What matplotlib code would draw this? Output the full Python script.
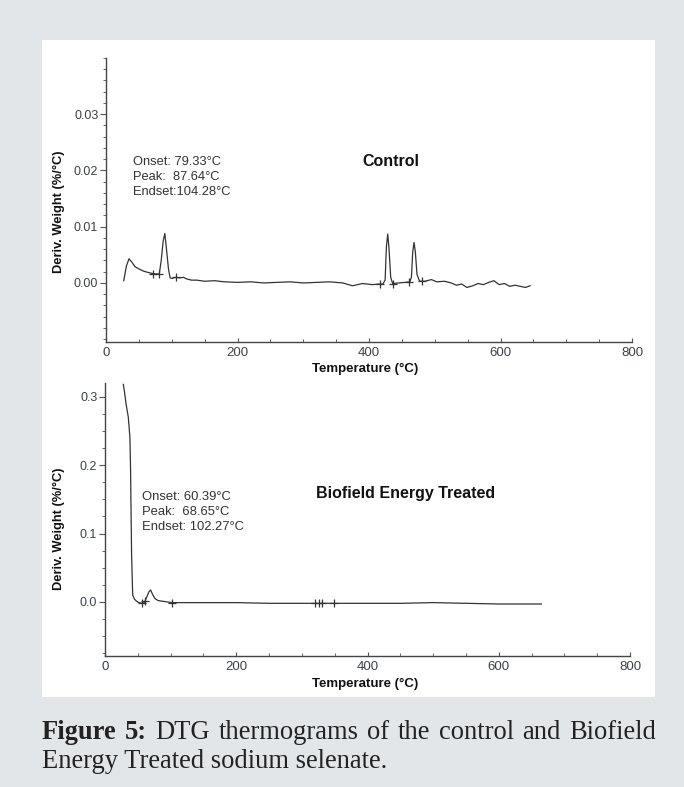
import numpy as np
import matplotlib
matplotlib.use("Agg")
import matplotlib.pyplot as plt
from matplotlib.patches import Rectangle
from matplotlib.ticker import MultipleLocator, FormatStrFormatter, FixedLocator

# ---------------- data ----------------
control_T = [27, 31, 35, 40, 44, 50, 57, 63, 70, 76, 81, 84, 87, 89.5, 92, 95, 97.5, 100,
             106, 112, 118, 123, 130, 138, 150, 165, 180, 200, 220, 240, 260, 280, 300, 320,
             340, 360, 375, 390, 405, 415, 421, 424.5, 426.5, 428.5, 430.5, 433, 436, 445,
             455, 462, 464.5, 466.5, 468.5, 470.5, 473, 477, 485, 495, 503, 515, 525, 533,
             541, 549, 558, 566, 574, 582, 590, 598, 606, 614, 622, 630, 638, 645]
control_dw = [0.0004, 0.0030, 0.0043, 0.0036, 0.0029, 0.0025, 0.0021, 0.0019, 0.0017, 0.0016,
              0.0016, 0.0040, 0.0075, 0.0088, 0.0060, 0.0025, 0.0009, 0.0008, 0.0010, 0.0009,
              0.0010, 0.0007, 0.0005, 0.0005, 0.0003, 0.0004, 0.0002, 0.0001, 0.0002, 0.0000,
              0.0001, 0.0002, 0.0000, 0.0001, 0.0002, 0.0000, -0.0005, -0.0001, -0.0003,
              -0.0002, -0.0002, 0.0005, 0.0065, 0.0087, 0.0060, 0.0010, -0.0001, 0.0000,
              0.0001, 0.0002, 0.0010, 0.0055, 0.0072, 0.0055, 0.0015, 0.0003, 0.0003, 0.0006,
              0.0002, 0.0003, 0.0000, -0.0004, -0.0002, -0.0008, -0.0005, -0.0001, -0.0003,
              0.0001, 0.0004, -0.0003, -0.0001, -0.0006, -0.0004, -0.0006, -0.0008, -0.0005]
control_marks_T = [72, 80, 106, 417, 436, 461, 480]

treated_T = [27.9, 30, 32, 35.5, 38, 39, 40.5, 42.2, 45, 48, 52, 56, 60, 64, 67, 69.6, 72,
             76, 81, 88, 95, 102, 120, 150, 200, 250, 300, 350, 400, 450, 500, 550, 600,
             640, 665]
treated_dw = [0.318, 0.305, 0.29, 0.27, 0.24, 0.19, 0.07, 0.010, 0.004, 0.001, -0.001,
              -0.002, -0.001, 0.008, 0.015, 0.0175, 0.012, 0.005, 0.002, 0.001, 0.000,
              -0.001, -0.001, -0.001, -0.001, -0.002, -0.002, -0.002, -0.002, -0.002,
              -0.001, -0.002, -0.003, -0.003, -0.003]
treated_marks_T = [56, 61, 102, 320, 326, 331, 349]

control_text = ["Onset: 79.33°C", "Peak:  87.64°C", "Endset:104.28°C"]
treated_text = ["Onset: 60.39°C", "Peak:  68.65°C", "Endset: 102.27°C"]
x_ticks = [0, 200, 400, 600, 800]
control_yticks = [0.00, 0.01, 0.02, 0.03]
treated_yticks = [0.0, 0.1, 0.2, 0.3]

# ---------------- figure ----------------
W, H = 684, 787
fig = plt.figure(figsize=(W / 100, H / 100), dpi=100)
fig.patch.set_facecolor('#e3e6e8')
fig.add_artist(Rectangle((42 / W, 1 - 697 / H), (655 - 42) / W, (697 - 40) / H,
                         transform=fig.transFigure, fc='white', ec='none', zorder=0))

sans = ['Liberation Sans', 'DejaVu Sans']
line_c = '#333333'
tick_c = '#3c414a'

def style_axes(ax, ylim, yticks, ymin, fmt):
    ax.set_facecolor('none')
    for s in ['top', 'right']:
        ax.spines[s].set_visible(False)
    for s in ['left', 'bottom']:
        ax.spines[s].set_color('#444444')
        ax.spines[s].set_linewidth(1.0)
    ax.set_xlim(0, 800)
    ax.set_ylim(*ylim)
    ax.set_xticks(x_ticks)
    ax.xaxis.set_minor_locator(MultipleLocator(50))
    ax.yaxis.set_major_locator(FixedLocator(yticks))
    ax.yaxis.set_minor_locator(MultipleLocator(ymin))
    ax.yaxis.set_major_formatter(FormatStrFormatter(fmt))
    ax.tick_params(axis='y', which='major', direction='out', length=4, width=0.8,
                   color='#555555', labelsize=9, labelcolor=tick_c, pad=1.5)
    ax.tick_params(axis='y', which='minor', direction='out', length=2.5, width=0.7,
                   color='#666666')
    ax.tick_params(axis='x', which='major', direction='in', length=3, width=0.8,
                   color='#555555', labelsize=9.5, labelcolor=tick_c, pad=3.5)
    ax.tick_params(axis='x', which='minor', direction='in', length=2, width=0.7,
                   color='#666666')
    for lab in ax.get_xticklabels() + ax.get_yticklabels():
        lab.set_fontfamily(sans)
    ax.set_xlabel('Temperature (°C)', fontsize=9.5, fontweight='bold', family=sans,
                  color='#111111', va='center')
    ax.set_ylabel('Deriv. Weight (%/°C)', fontsize=9.3, fontweight='bold', family=sans,
                  color='#111111')

# top: control
ax1 = fig.add_axes([106 / W, 1 - 342 / H, 526 / W, 284 / H])
style_axes(ax1, (-0.0105, 0.040), control_yticks, 0.002, '%.2f')
ax1.plot(control_T, control_dw, color=line_c, lw=0.9)
ax1.plot(control_marks_T, np.interp(control_marks_T, control_T, control_dw), ls='none',
         marker='+', ms=6, mew=0.9, color=line_c)
ax1.xaxis.set_label_coords(0.492, (342 - 368.5) / 284)
ax1.yaxis.set_label_coords(-0.078, 0.458)
for i, t in enumerate(control_text):
    ax1.text(0.051, 0.635 - i * 0.053, t, transform=ax1.transAxes, fontsize=9.3,
             family=sans, color='#333333', va='center', ha='left')
ax1.text(0.542, 0.635, 'Control', transform=ax1.transAxes, fontsize=11.5,
         fontweight='bold', family=sans, color='#111111', ha='center', va='center')

# bottom: treated
ax2 = fig.add_axes([105 / W, 1 - 656 / H, 525 / W, 273 / H])
style_axes(ax2, (-0.079, 0.32), treated_yticks, 0.025, '%.1f')
ax2.plot(treated_T, treated_dw, color=line_c, lw=0.9)
ax2.plot(treated_marks_T, np.interp(treated_marks_T, treated_T, treated_dw), ls='none',
         marker='+', ms=6, mew=0.9, color=line_c)
ax2.xaxis.set_label_coords(0.495, (656 - 683.5) / 273)
ax2.yaxis.set_label_coords(-0.076, 0.465)
for i, t in enumerate(treated_text):
    ax2.text(0.07, 0.583 - i * 0.056, t, transform=ax2.transAxes, fontsize=9.4,
             family=sans, color='#333333', va='center', ha='left')
ax2.text(0.573, 0.597, 'Biofield Energy Treated', transform=ax2.transAxes, fontsize=11.5,
         fontweight='bold', family=sans, color='#111111', ha='center', va='center')

# ---------------- caption (justified first line) ----------------
serif = ['Liberation Serif', 'DejaVu Serif']
renderer = fig.canvas.get_renderer()
left_px, right_px = 42, 656
line2 = fig.text(left_px / W, 1 - 768 / H, 'Energy Treated sodium selenate.', fontsize=16,
                 family=serif, color='#222222', va='baseline', ha='left')
w2 = line2.get_window_extent(renderer).width
cap_fs = 16 * 346 / w2
line2.set_fontsize(cap_fs)

line1 = [('Figure', 'bold'), ('5:', 'bold'), ('DTG', 'normal'), ('thermograms', 'normal'),
         ('of', 'normal'), ('the', 'normal'), ('control', 'normal'), ('and', 'normal'),
         ('Biofield', 'normal')]
texts = []
widths = []
for w, fw in line1:
    t = fig.text(0, 1 - 739 / H, w, fontsize=cap_fs, fontweight=fw, family=serif,
                 color='#222222', va='baseline', ha='left')
    texts.append(t)
    widths.append(t.get_window_extent(renderer).width)
gap = (right_px - left_px - sum(widths)) / (len(widths) - 1)
x = left_px
for t, wd in zip(texts, widths):
    t.set_x(x / W)
    x += wd + gap

fig.savefig('out.png', dpi=100, facecolor=fig.get_facecolor())
